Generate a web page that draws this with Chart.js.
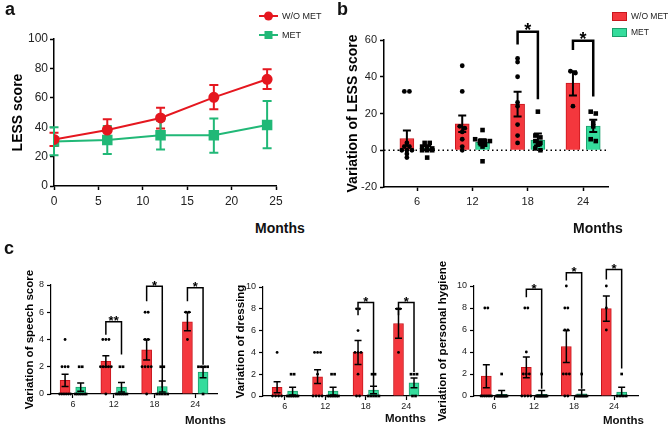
<!DOCTYPE html>
<html>
<head>
<meta charset="utf-8">
<script src="https://cdn.jsdelivr.net/npm/chart.js@4.4.1/dist/chart.umd.min.js"></script>
<style>
  html, body { margin: 0; padding: 0; background: #fff; }
  body { position: relative; width: 669px; height: 428px; overflow: hidden; font-family: Arial, "Liberation Sans", sans-serif; color: #111; }
  canvas { position: absolute; }
  .t { position: absolute; white-space: nowrap; font-weight: bold; }
  .panel { font-size: 18px; line-height: 18px; }
  .months { font-size: 14px; line-height: 14px; }
  .months.small { font-size: 11.5px; line-height: 11.5px; }
  .leg { position: absolute; display: flex; align-items: center; font-size: 9px; color: #222; white-space: nowrap; }
  .leg svg { margin-right: 4px; }
  .box { display: inline-block; width: 13px; height: 7px; margin-right: 4px; }
</style>
</head>
<body>

<canvas id="chartA" width="330" height="215" style="left:0;top:0"></canvas>
<canvas id="chartB" width="339" height="215" style="left:330px;top:0"></canvas>
<canvas id="chartC1" width="212" height="173" style="left:11px;top:255px"></canvas>
<canvas id="chartC2" width="223" height="173" style="left:223px;top:255px"></canvas>
<canvas id="chartC3" width="235" height="173" style="left:434px;top:255px"></canvas>

<div class="t panel" style="left:5px;top:0">a</div>
<div class="t panel" style="left:337px;top:0">b</div>
<div class="t panel" style="left:4px;top:239px">c</div>

<div class="t months" style="left:255px;top:221px">Months</div>
<div class="t months" style="left:573px;top:221px">Months</div>
<div class="t months small" style="left:185px;top:415px">Months</div>
<div class="t months small" style="left:385px;top:413px">Months</div>
<div class="t months small" style="left:603px;top:415px">Months</div>

<div class="leg" style="left:259px;top:10px">
  <svg width="19" height="12"><line x1="0" y1="6" x2="19" y2="6" stroke="#e5171f" stroke-width="2"/><circle cx="9.5" cy="6" r="4.5" fill="#e5171f"/></svg>W/O MET
</div>
<div class="leg" style="left:259px;top:29px">
  <svg width="19" height="12"><line x1="0" y1="6" x2="19" y2="6" stroke="#21b877" stroke-width="2"/><rect x="5.5" y="2" width="8" height="8" fill="#21b877"/></svg>MET
</div>
<div class="leg" style="left:612px;top:11px;font-size:8.5px"><span class="box" style="background:#f4373d;border:1px solid #c9161d"></span>W/O MET</div>
<div class="leg" style="left:612px;top:27px;font-size:8.5px"><span class="box" style="background:#35dc9c;border:1px solid #1b9e6b"></span>MET</div>

<script>
// ---- panel a: LESS score over time ----
const lineMonths = [0, 6, 12, 18, 24];
const lessWoMet = [31.7, 38.1, 46.3, 60.3, 72.6];
const lessWoMetHi = [36.3, 45.4, 53.3, 68.7, 79.4];
const lessWoMetLo = [27.2, 31.3, 39.2, 52.2, 66.0];
const lessMet = [30.2, 31.3, 34.5, 34.5, 41.5];
const lessMetHi = [39.9, 40.8, 44.4, 46.0, 57.8];
const lessMetLo = [20.9, 21.8, 24.9, 22.7, 25.6];

// ---- bar panels share the same months ----
const barMonths = [6, 12, 18, 24];

// panel b: variation of LESS score
const bWoMet = [6.4, 14.4, 25.1, 36.5];
const bWoMetHi = [10.8, 18.9, 31.8, 43.0];
const bWoMetLo = [2.4, 9.9, 18.4, 29.8];
const bMet = [1.2, 4.3, 5.6, 13.1];
const bMetHi = [2.3, 6.0, 9.1, 16.6];
const bMetLo = [0.2, 2.6, 2.6, 9.9];
const bWoMetDots = [[32, 32, 4, 2, 2, 0, 0, 0, -2, -4], [46, 32, 13, 12, 10, 6, 2, 0], [50, 48, 40, 26, 24, 14, 8, 4], [43, 42, 24]];
const bMetDots = [[4, 4, 2, 2, 1, 0, 0, 0, -4], [11, 6, 5, 5, 5, 4, 3, 2, -6], [21, 8, 7, 5, 4, 3, 1, 0], [21, 20, 15, 13, 6, 5]];
const bSig = ['', '', '*', '*'];
const bSigTop = [null, null, 64.5, 59.6];
const bSigLeft = [null, null, 57.5, 54.6];
const bSigRight = [null, null, 27.8, 29.2];

// panel c: speech
const speechWoMet = [1.0, 2.4, 3.25, 5.3];
const speechWoMetHi = [1.45, 2.8, 4.0, 6.0];
const speechWoMetLo = [0.55, 2.0, 2.5, 4.65];
const speechMet = [0.5, 0.5, 0.55, 1.6];
const speechMetHi = [0.8, 0.85, 0.95, 2.0];
const speechMetLo = [0.2, 0.15, 0.15, 1.2];
const speechWoMetDots = [[4, 2, 2, 2, 0, 0, 0, 0, 0, 0], [4, 4, 4, 2, 2, 2, 2, 2, 0], [6, 6, 4, 4, 2, 2, 2, 2, 0], [6, 6, 4]];
const speechMetDots = [[2, 2, 0, 0, 0, 0, 0, 0], [2, 2, 0, 0, 0, 0, 0, 0], [2, 2, 0, 0, 0, 0, 0], [2, 2, 2, 2, 0]];
const speechSig = ['', '**', '*', '*'];
const speechSigTop = [null, 5.3, 7.9, 7.8];
const speechSigLeft = [null, 4.35, 6.8, 6.8];
const speechSigRight = [null, 2.9, 0.45, 2.15];

// panel c: dressing
const dressWoMet = [0.8, 1.75, 4.0, 6.65];
const dressWoMetHi = [1.3, 2.4, 5.1, 8.0];
const dressWoMetLo = [0.3, 1.15, 2.9, 5.3];
const dressMet = [0.45, 0.45, 0.55, 1.2];
const dressMetHi = [0.8, 0.8, 0.9, 1.65];
const dressMetLo = [0.1, 0.1, 0.2, 0.75];
const dressWoMetDots = [[4, 0, 0, 0, 0], [4, 4, 4, 2, 0, 0, 0, 0], [8, 8, 6, 4, 4, 4, 2, 0, 0], [8, 8, 4]];
const dressMetDots = [[2, 2, 0, 0, 0, 0, 0, 0, 0], [2, 2, 0, 0, 0, 0, 0, 0, 0], [2, 2, 0, 0, 0, 0, 0], [2, 2, 2, 0, 0]];
const dressSig = ['', '', '*', '*'];
const dressSigTop = [null, null, 8.57, 8.57];
const dressSigLeft = [null, null, 7.4, 7.4];
const dressSigRight = [null, null, 0.85, 2.2];

// panel c: personal hygiene
const hygWoMet = [1.8, 2.6, 4.5, 7.95];
const hygWoMetHi = [2.85, 3.55, 5.95, 9.1];
const hygWoMetLo = [0.75, 1.65, 3.05, 6.8];
const hygMet = [0.15, 0.15, 0.2, 0.35];
const hygMetHi = [0.5, 0.5, 0.55, 0.8];
const hygMetLo = [0, 0, 0, 0];
const hygWoMetDots = [[8, 8, 0, 0, 0, 0, 0, 0, 0], [8, 8, 4, 2, 2, 2, 0, 0, 0, 0], [10, 8, 8, 6, 6, 2, 2, 2, 0, 0], [10, 8, 6]];
const hygMetDots = [[2, 0, 0, 0, 0, 0, 0, 0, 0, 0, 0, 0, 0], [2, 0, 0, 0, 0, 0, 0, 0, 0, 0, 0, 0, 0], [2, 0, 0, 0, 0, 0, 0, 0, 0, 0], [2, 0, 0, 0, 0]];
const hygSig = ['', '*', '*', '*'];
const hygSigTop = [null, 9.7, 11.2, 11.5];
const hygSigLeft = [null, 8.97, 10.5, 10.6];
const hygSigRight = [null, 0.67, 0.67, 2.5];

const RED = '#e5171f', GREEN = '#21b877';
const BAR_RED = '#f4373d', BAR_RED_EDGE = '#c9161d';
const BAR_GREEN = '#35dc9c', BAR_GREEN_EDGE = '#1b9e6b';
const FONT = 'Arial, "Liberation Sans", sans-serif';

Chart.defaults.font.family = FONT;
Chart.defaults.color = '#222';
Chart.defaults.animation = false;

// spread equal values side by side, like a dot plot
function swarm(vals, centre, step, maxSpread, tol) {
    const groups = [];
    vals.forEach(v => {
        let g = groups.find(g => Math.abs(g.v - v) < tol);
        if (!g) { g = { v, n: 0, k: 0 }; groups.push(g); }
        g.n++;
    });
    return vals.map(v => {
        const g = groups.find(g => Math.abs(g.v - v) < tol);
        const s = g.n > 1 ? Math.min(step, maxSpread / (g.n - 1)) : 0;
        const x = centre + (g.k - (g.n - 1) / 2) * s;
        g.k++;
        return { x, y: v };
    });
}

function drawErr(chart, o) {
    const ctx = chart.ctx, y = chart.scales.y;
    chart.data.datasets.forEach((ds, i) => {
        if (!ds.errHi) return;
        const meta = chart.getDatasetMeta(i);
        ctx.save();
        ctx.strokeStyle = ds.errColor || '#000';
        ctx.lineWidth = o.width;
        meta.data.forEach((el, j) => {
            const yh = y.getPixelForValue(ds.errHi[j]);
            const yl = y.getPixelForValue(ds.errLo[j]);
            ctx.beginPath();
            ctx.moveTo(el.x, yh); ctx.lineTo(el.x, yl);
            ctx.moveTo(el.x - o.cap, yh); ctx.lineTo(el.x + o.cap, yh);
            ctx.moveTo(el.x - o.cap, yl); ctx.lineTo(el.x + o.cap, yl);
            ctx.stroke();
        });
        ctx.restore();
    });
}

const errorBars = {
    id: 'errorBars',
    beforeDatasetsDraw(chart, args, o) { if (o.under) drawErr(chart, o); },
    afterDatasetsDraw(chart, args, o) { if (!o.under) drawErr(chart, o); }
};

const sigBrackets = {
    id: 'sigBrackets',
    afterDatasetsDraw(chart, args, o) {
        if (!o.labels) return;
        const ctx = chart.ctx, y = chart.scales.y;
        const red = chart.getDatasetMeta(0).data, green = chart.getDatasetMeta(1).data;
        ctx.save();
        ctx.strokeStyle = '#000';
        ctx.fillStyle = '#000';
        ctx.lineWidth = o.width;
        ctx.font = 'bold ' + o.fontSize + 'px ' + FONT;
        ctx.textAlign = 'center';
        ctx.textBaseline = 'alphabetic';
        o.labels.forEach((lab, i) => {
            if (!lab) return;
            const x1 = red[i].x, x2 = green[i].x;
            const yt = y.getPixelForValue(o.top[i]);
            ctx.beginPath();
            ctx.moveTo(x1, y.getPixelForValue(o.left[i]));
            ctx.lineTo(x1, yt);
            ctx.lineTo(x2, yt);
            ctx.lineTo(x2, y.getPixelForValue(o.right[i]));
            ctx.stroke();
            ctx.fillText(lab, (x1 + x2) / 2, yt + o.fontSize * 0.2 + 1);
        });
        ctx.restore();
    }
};

const zeroLine = {
    id: 'zeroLine',
    beforeDatasetsDraw(chart, args, o) {
        if (!o.show) return;
        const { ctx, chartArea } = chart;
        const y0 = chart.scales.y.getPixelForValue(0);
        ctx.save();
        ctx.strokeStyle = '#000';
        ctx.lineWidth = 1.5;
        ctx.setLineDash([1.5, 3]);
        ctx.beginPath();
        ctx.moveTo(chartArea.left, y0);
        ctx.lineTo(chartArea.right, y0);
        ctx.stroke();
        ctx.restore();
    }
};

// writes the y tick labels again from the scale's own ticks, for panels that need it
const yTickText = {
    id: 'yTickText',
    afterDraw(chart, args, o) {
        if (!o.show) return;
        const ctx = chart.ctx, y = chart.scales.y;
        const x = y.right - o.offset;
        ctx.save();
        ctx.fillStyle = '#222';
        ctx.font = o.size + 'px ' + FONT;
        ctx.textAlign = 'right';
        ctx.textBaseline = 'middle';
        y.ticks.forEach(t => ctx.fillText(String(t.value), x, y.getPixelForValue(t.value)));
        ctx.restore();
    }
};

function axisGrid(w) {
    return { display: true, drawOnChartArea: false, drawTicks: true, tickLength: 4, tickColor: '#000', tickWidth: w, offset: false };
}

// ---- panel a ----
new Chart(document.getElementById('chartA'), {
    type: 'line',
    data: {
        datasets: [
            {
                label: 'W/O MET',
                data: lineMonths.map((m, i) => ({ x: m, y: lessWoMet[i] })),
                borderColor: RED, backgroundColor: RED, borderWidth: 2,
                pointStyle: 'circle', pointRadius: 4.5,
                errHi: lessWoMetHi, errLo: lessWoMetLo, errColor: RED
            },
            {
                label: 'MET',
                data: lineMonths.map((m, i) => ({ x: m, y: lessMet[i] })),
                borderColor: GREEN, backgroundColor: GREEN, borderWidth: 2,
                pointStyle: 'rect', pointRadius: 6,
                errHi: lessMetHi, errLo: lessMetLo, errColor: GREEN
            }
        ]
    },
    options: {
        responsive: false,
        layout: { padding: { top: 39, right: 54, left: 0, bottom: 0 } },
        plugins: {
            legend: { display: false },
            tooltip: { enabled: false },
            errorBars: { width: 2, cap: 4.5, under: true }
        },
        scales: {
            x: {
                type: 'linear', min: 0, max: 25,
                ticks: { stepSize: 5, font: { size: 12 }, padding: 4 },
                grid: axisGrid(1.5),
                border: { color: '#000', width: 1.5 },
                afterFit: s => { s.height = 29; }
            },
            y: {
                min: 0, max: 100,
                ticks: { stepSize: 20, font: { size: 12 }, padding: 2 },
                grid: axisGrid(1.5),
                border: { color: '#000', width: 1.5 },
                title: { display: true, text: 'LESS score', color: '#000', font: { size: 14, weight: 'bold' }, padding: { top: 10, bottom: 0 } },
                afterFit: s => { s.width = 54; }
            }
        }
    },
    plugins: [errorBars]
});

// ---- bar + dot panels ----
function barPanel(id, c) {
    const toPts = (vals, dx) => barMonths.map((m, i) => ({ x: m + dx, y: vals[i] }));
    const dotPts = (groups, dx) => groups.flatMap((vals, i) => swarm(vals, barMonths[i] + dx, c.dotStep, c.dotMax, c.dotTol));
    return new Chart(document.getElementById(id), {
        type: 'bar',
        data: {
            datasets: [
                {
                    label: 'W/O MET', data: toPts(c.woMet, -c.shift),
                    backgroundColor: BAR_RED, borderColor: BAR_RED_EDGE, borderWidth: 1,
                    barThickness: c.barPx, grouped: false, order: 2,
                    errHi: c.woMetHi, errLo: c.woMetLo
                },
                {
                    label: 'MET', data: toPts(c.met, c.shift),
                    backgroundColor: BAR_GREEN, borderColor: BAR_GREEN_EDGE, borderWidth: 1,
                    barThickness: c.barPx, grouped: false, order: 2,
                    errHi: c.metHi, errLo: c.metLo
                },
                {
                    type: 'scatter', label: 'W/O MET values', data: dotPts(c.woMetDots, -c.shift),
                    pointStyle: 'circle', pointRadius: c.dotR, backgroundColor: '#000', borderWidth: 0,
                    order: 1, clip: false
                },
                {
                    type: 'scatter', label: 'MET values', data: dotPts(c.metDots, c.shift),
                    pointStyle: c.metStyle, pointRadius: c.metStyle === 'rect' ? c.dotR * 1.35 : c.dotR,
                    backgroundColor: '#000', borderWidth: 0,
                    order: 1, clip: false
                }
            ]
        },
        options: {
            responsive: false,
            layout: { padding: { top: c.padTop, right: c.padRight, left: 0, bottom: 0 } },
            plugins: {
                legend: { display: false },
                tooltip: { enabled: false },
                errorBars: { width: c.errW, cap: c.cap },
                sigBrackets: { labels: c.sig, top: c.sigTop, left: c.sigLeft, right: c.sigRight, width: c.sigW, fontSize: c.starSize },
                zeroLine: { show: !!c.zeroLine },
                yTickText: { show: !!c.redrawTicks, size: c.tickSize, offset: 4 + c.yPad }
            },
            scales: {
                x: {
                    type: 'linear', min: c.xMin, max: c.xMax, offset: false,
                    afterBuildTicks: s => { s.ticks = barMonths.map(v => ({ value: v })); },
                    ticks: { font: { size: c.tickSize }, padding: c.xPad },
                    grid: axisGrid(c.axisW),
                    border: { color: '#000', width: c.axisW },
                    afterFit: s => { s.height = c.xH; }
                },
                y: {
                    min: c.yMin, max: c.yMax,
                    ticks: { stepSize: c.yStep, font: { size: c.tickSize }, padding: c.yPad, display: !c.redrawTicks },
                    grid: axisGrid(c.axisW),
                    border: { color: '#000', width: c.axisW },
                    title: { display: true, text: c.title, color: '#000', font: { size: c.titleSize, weight: 'bold' }, padding: { top: c.titlePad, bottom: 0 } },
                    afterFit: s => { s.width = c.yW; }
                }
            }
        },
        plugins: [zeroLine, errorBars, sigBrackets, yTickText]
    });
}

barPanel('chartB', {
    woMet: bWoMet, woMetHi: bWoMetHi, woMetLo: bWoMetLo,
    met: bMet, metHi: bMetHi, metLo: bMetLo,
    woMetDots: bWoMetDots, metDots: bMetDots,
    sig: bSig, sigTop: bSigTop, sigLeft: bSigLeft, sigRight: bSigRight,
    yMin: -20, yMax: 60, yStep: 20, xMin: 2.42, xMax: 26.7,
    shift: 1.1, barPx: 14, dotStep: 0.55, dotMax: 1.6, dotTol: 1.2, dotR: 2.4, metStyle: 'rect',
    errW: 2, cap: 4, sigW: 2.5, starSize: 18,
    padTop: 40, padRight: 61, yW: 54, xH: 28,
    tickSize: 11, xPad: 4, yPad: 3, axisW: 1.5,
    title: 'Variation of LESS score', titleSize: 14, titlePad: 14.5,
    zeroLine: true
});

const cCommon = {
    shift: 1.15, barPx: 10, dotStep: 0.45, dotMax: 1.6, dotTol: 0.2, dotR: 1.4, metStyle: 'rect',
    errW: 1.5, cap: 3.5, sigW: 1.5, starSize: 13,
    tickSize: 9, xPad: 1, yPad: 3, axisW: 1.2, titleSize: 11.5
};

barPanel('chartC1', Object.assign({}, cCommon, {
    woMet: speechWoMet, woMetHi: speechWoMetHi, woMetLo: speechWoMetLo,
    met: speechMet, metHi: speechMetHi, metLo: speechMetLo,
    woMetDots: speechWoMetDots, metDots: speechMetDots,
    sig: speechSig, sigTop: speechSigTop, sigLeft: speechSigLeft, sigRight: speechSigRight,
    yMin: 0, yMax: 8, yStep: 2, xMin: 2.78, xMax: 27.2,
    padTop: 30, padRight: 6, yW: 40, xH: 34,
    title: 'Variation of speech score', titlePad: 12,
    redrawTicks: true
}));

barPanel('chartC2', Object.assign({}, cCommon, {
    woMet: dressWoMet, woMetHi: dressWoMetHi, woMetLo: dressWoMetLo,
    met: dressMet, metHi: dressMetHi, metLo: dressMetLo,
    woMetDots: dressWoMetDots, metDots: dressMetDots,
    sig: dressSig, sigTop: dressSigTop, sigLeft: dressSigLeft, sigRight: dressSigRight,
    yMin: 0, yMax: 10, yStep: 2, xMin: 2.76, xMax: 29.3,
    padTop: 32, padRight: 3, yW: 40, xH: 32,
    title: 'Variation of dressing', titlePad: 11
}));

barPanel('chartC3', Object.assign({}, cCommon, {
    woMet: hygWoMet, woMetHi: hygWoMetHi, woMetLo: hygWoMetLo,
    met: hygMet, metHi: hygMetHi, metLo: hygMetLo,
    woMetDots: hygWoMetDots, metDots: hygMetDots,
    sig: hygSig, sigTop: hygSigTop, sigLeft: hygSigLeft, sigRight: hygSigRight,
    yMin: 0, yMax: 10, yStep: 2, xMin: 3.0, xMax: 27.6,
    padTop: 31, padRight: 31, yW: 40, xH: 32,
    title: 'Variation of personal hygiene', titlePad: 2
}));
</script>
</body>
</html>
